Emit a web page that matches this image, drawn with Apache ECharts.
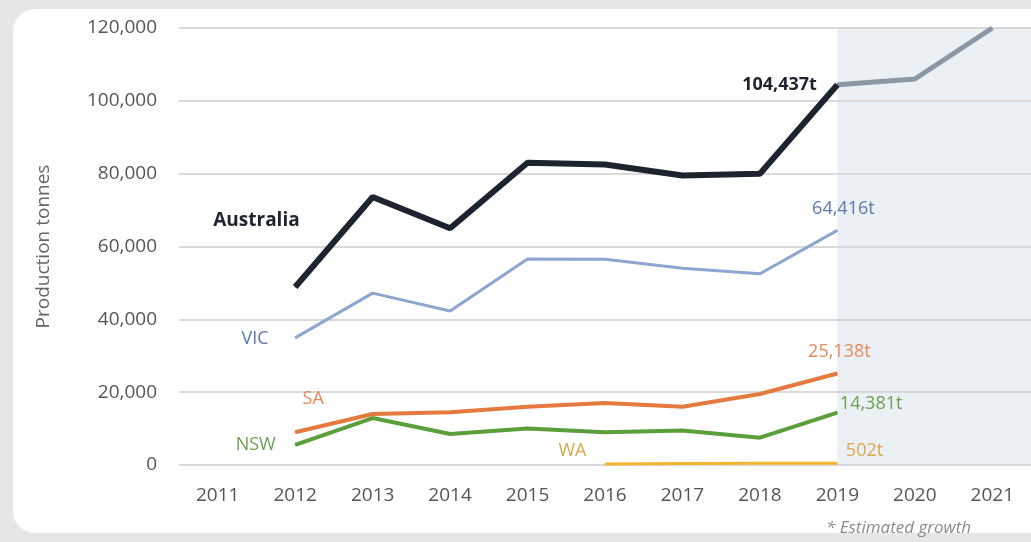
<!DOCTYPE html>
<html>
<head>
<meta charset="utf-8">
<style>
html,body{margin:0;padding:0;background:#e6e6e6;}
#c{width:1031px;height:542px;}
</style>
<script src="https://cdn.jsdelivr.net/npm/echarts@6/dist/echarts.min.js"></script>
</head>
<body>
<div id="c"></div>
<script>
const years = ['2011','2012','2013','2014','2015','2016','2017','2018','2019','2020','2021'];
const yTicks = [0, 20000, 40000, 60000, 80000, 100000, 120000];
const australia = [null, 48900, 73600, 65000, 83000, 82500, 79500, 80000, 104437, null, null];
const projected = [null, null, null, null, null, null, null, null, 104437, 106000, 120000];
const vic = [null, 34900, 47200, 42300, 56600, 56500, 54000, 52500, 64416, null, null];
const sa = [null, 9000, 14000, 14500, 16000, 17000, 16000, 19500, 25138, null, null];
const nsw = [null, 5500, 12900, 8500, 10000, 9000, 9500, 7500, 14381, null, null];
const wa = [null, null, null, null, null, 300, 400, 450, 502, null, null];
const projectionStart = '2019';

const FONT = '"Open Sans", "Liberation Sans", sans-serif';
const LFS = 18;

function withLabels(data, first, last) {
  const fi = data.findIndex(x => x != null);
  let li = -1;
  data.forEach((x, i) => { if (x != null) li = i; });
  return data.map((v, i) => {
    if (v == null) return v;
    if (i === fi && first) return { value: v, label: Object.assign({ show: true, fontFamily: FONT, fontSize: LFS }, first) };
    if (i === li && last) return { value: v, label: Object.assign({ show: true, fontFamily: FONT, fontSize: LFS }, last) };
    return v;
  });
}

function lineSeries(name, data, color, width, z) {
  return {
    name, type: 'line', data,
    symbol: 'circle', symbolSize: 1, showSymbol: true,
    lineStyle: { color, width }, itemStyle: { color }, z,
    label: { show: false }
  };
}

const chart = echarts.init(document.getElementById('c'), null, { renderer: 'canvas' });

const option = {
  animation: false,
  backgroundColor: '#e6e6e6',
  grid: { left: 179, right: 0, top: 28, bottom: 77, containLabel: false },
  xAxis: {
    type: 'category',
    data: years,
    boundaryGap: true,
    axisLine: { show: false },
    axisTick: { show: false },
    axisLabel: { color: '#555', fontFamily: FONT, fontSize: 19, margin: 21 }
  },
  yAxis: {
    type: 'value',
    min: 0, max: 120000, interval: 20000,
    name: 'Production tonnes',
    nameLocation: 'middle',
    nameGap: 126,
    nameRotate: 90,
    nameTextStyle: { color: '#666', fontFamily: FONT, fontSize: 19 },
    axisLabel: {
      color: '#555', fontFamily: FONT, fontSize: 19, margin: 22,
      formatter: v => yTicks.includes(v) ? v.toLocaleString('en-US') : ''
    },
    splitLine: { lineStyle: { color: '#d9d9d9', width: 2 } },
    axisLine: { show: false }, axisTick: { show: false }
  },
  series: [
    lineSeries('WA', withLabels(wa,
      { position: 'left', formatter: 'WA', color: '#d9a84a', offset: [-13, -13] },
      { position: 'right', formatter: '502t', color: '#d9a84a', offset: [3, -12] }), '#f2b630', 3, 3),
    lineSeries('NSW', withLabels(nsw,
      { position: 'left', formatter: 'NSW', color: '#6a9f50', offset: [-14, 0] },
      { position: 'right', formatter: '14,381t', color: '#6a9f50', offset: [-3, -9] }), '#5b9f3b', 4, 4),
    lineSeries('SA', withLabels(sa,
      { position: 'top', formatter: 'SA', color: '#e8875a', offset: [18, -19] },
      { position: 'top', formatter: '25,138t', color: '#e8875a', offset: [2, -7] }), '#e57a3e', 4, 5),
    lineSeries('VIC', withLabels(vic,
      { position: 'left', formatter: 'VIC', color: '#5b79ad', offset: [-21, 1] },
      { position: 'top', formatter: '64,416t', color: '#5b79ad', offset: [6, -7] }), '#8ea5cf', 3, 6),
    lineSeries('Projected', projected, '#8a97a5', 5, 7),
    lineSeries('Australia', withLabels(australia,
      { position: 'left', formatter: 'Australia', color: '#1c2430', fontWeight: 'bold', fontSize: 19, offset: [10, -66] },
      { position: 'left', formatter: '104,437t', color: '#1c2430', fontWeight: 'bold', offset: [-15, 0] }), '#1c2430', 6, 8)
  ],
  graphic: [
    { type: 'rect', id: 'card', z: -100, shape: { x: 13, y: 9, width: 1060, height: 524, r: 22 }, style: { fill: '#ffffff' }, silent: true },
    { type: 'text', id: 'foot', z: 10, left: 826, top: 520, style: { text: '* Estimated growth', fill: '#8a8a8a', font: 'italic 17px ' + FONT } }
  ]
};
chart.setOption(option);

// shaded projection region using the chart's own scales
const x0 = chart.convertToPixel({ xAxisIndex: 0 }, projectionStart);
const yTop = chart.convertToPixel({ yAxisIndex: 0 }, 120000);
const yBot = chart.convertToPixel({ yAxisIndex: 0 }, 0);
chart.setOption({
  graphic: [
    { type: 'rect', id: 'shade', z: -90, shape: { x: x0, y: yTop, width: chart.getWidth() - x0, height: yBot - yTop }, style: { fill: '#ebf0f4' }, silent: true }
  ]
});
</script>
</body>
</html>
